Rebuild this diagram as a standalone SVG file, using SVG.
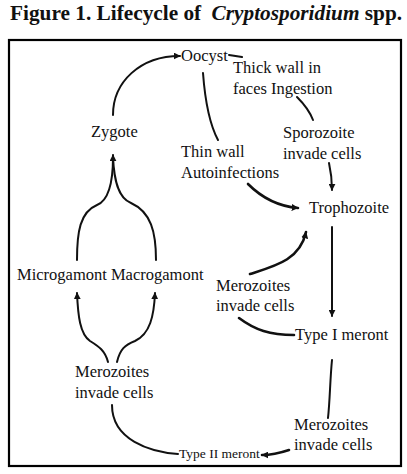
<svg xmlns="http://www.w3.org/2000/svg" width="407" height="474" viewBox="0 0 407 474">
<defs>
<style>
.t{font-family:"Liberation Serif","Times New Roman",serif;font-size:16.5px;fill:#111}
.s{font-size:13.5px}
.c{fill:none;stroke:#111;stroke-width:2;stroke-linecap:round}
.h{stroke-width:2.6}
</style>
<marker id="a" viewBox="0 0 10 10" refX="9" refY="5" markerWidth="7" markerHeight="7" markerUnits="userSpaceOnUse" orient="auto">
<path d="M0,0 L10,5 L0,10 Z" fill="#111"/>
</marker>
</defs>
<rect width="407" height="474" fill="#fff"/>
<text x="10" y="19.5" font-family="Liberation Serif,serif" font-weight="bold" font-size="21.3" fill="#111">Figure 1. Lifecycle of <tspan dx="5" font-style="italic">Cryptosporidium</tspan> spp.</text>
<rect x="9" y="40" width="392" height="426" fill="none" stroke="#000" stroke-width="2.2"/>

<g id="connectors">
<path class="c" d="M113,115 C113,82 140,56 180,56" marker-end="url(#a)"/>
<path class="c" d="M229,55 L242,57"/>
<path class="c" d="M297,97 C304,104 310,112 313,120"/>
<path class="c" d="M329,163 C331,172 332,180 332,190" marker-end="url(#a)"/>
<path class="c" d="M203,73 C205,100 210,125 218,140"/>
<path class="c h" d="M248,184 C260,196 275,206 298,208" marker-end="url(#a)"/>
<path class="c" d="M113,157 C113,180 110,200 97,205 C80,212 77,232 77,260"/>
<path class="c" d="M113,157 C114,180 118,198 131,203 C151,212 156,232 156,260"/>
<line x1="113" y1="165" x2="113" y2="155" class="c" marker-end="url(#a)"/>
<path class="c" d="M108,362 C105,350 98,346 90,341 C80,334 78,316 77,293" marker-end="url(#a)"/>
<path class="c" d="M117,362 C120,349 125,345 135,341 C150,334 154,316 155,293" marker-end="url(#a)"/>
<path class="c" d="M112,405 C112,440 150,452 178,454"/>
<path class="c h" d="M289,450 C280,453 272,455 262,455" marker-end="url(#a)"/>
<path class="c" d="M332,360 C330,380 330,400 328,418"/>
<path class="c" d="M332,227 L332,316" marker-end="url(#a)"/>
<path class="c h" d="M250,274 C275,266 300,260 306,232" marker-end="url(#a)"/>
<path class="c h" d="M239,318 C255,330 270,335 294,335"/>
</g>

<g id="oocyst"><text class="t" x="181" y="60.5">Oocyst</text></g>
<g id="thick-wall"><text class="t" x="233" y="73">Thick wall in</text><text class="t" x="233" y="94">faces Ingestion</text></g>
<g id="zygote"><text class="t" x="91" y="137">Zygote</text></g>
<g id="sporozoite"><text class="t" x="283" y="138">Sporozoite</text><text class="t" x="283" y="159">invade cells</text></g>
<g id="thin-wall"><text class="t" x="181" y="157">Thin wall</text><text class="t" x="181" y="178">Autoinfections</text></g>
<g id="trophozoite"><text class="t" x="309" y="213">Trophozoite</text></g>
<g id="gamonts"><text class="t" x="17" y="280">Microgamont Macrogamont</text></g>
<g id="merozoites-mid"><text class="t" x="216" y="291">Merozoites</text><text class="t" x="216" y="311">invade cells</text></g>
<g id="type1"><text class="t" x="295" y="340">Type I meront</text></g>
<g id="merozoites-left"><text class="t" x="75" y="377">Merozoites</text><text class="t" x="75" y="398">invade cells</text></g>
<g id="merozoites-right"><text class="t" x="294" y="430">Merozoites</text><text class="t" x="294" y="450">invade cells</text></g>
<g id="type2"><text class="t s" x="179" y="458">Type II meront</text></g>
</svg>
